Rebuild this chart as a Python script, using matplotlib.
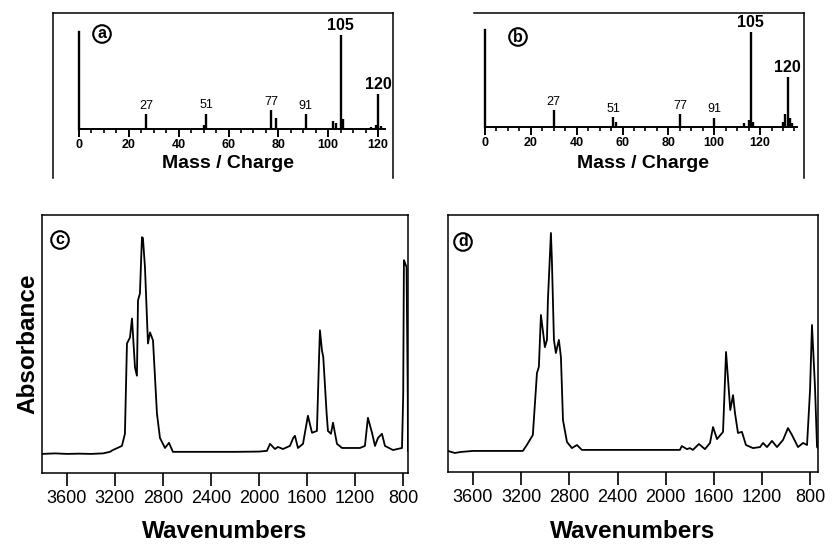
import matplotlib.pyplot as plt
from matplotlib.ticker import MultipleLocator

plt.rcParams['font.family'] = ['Liberation Sans', 'DejaVu Sans']

W, H = 832, 546

# ---- mass spectra (relative intensity, base peak = 100) ----
a_mz = [27, 50, 51, 77, 79, 91, 102, 103, 105, 106, 117, 119, 120, 121]
a_intensity = [15, 4, 16, 20, 11, 15, 7.5, 6, 100, 10, 2, 4, 37, 3]
a_label_mz = [27, 51, 77, 91, 105, 120]
a_label_text = ['27', '51', '77', '91', '105', '120']

b_mz = [30, 56, 57, 85, 100, 113, 115, 116, 117, 130, 131, 132, 133, 134]
b_intensity = [18, 10.5, 5, 14, 10, 4, 7, 100, 5, 5, 14, 53, 10, 4]
b_label_mz = [30, 56, 85, 100, 116, 132]
b_label_text = ['27', '51', '77', '91', '105', '120']

ms_ticks = [0, 20, 40, 60, 80, 100, 120]
big_labels = ['105', '120']

# ---- IR spectra (absorbance, arbitrary units) ----
c_wavenumber = [3808, 3700, 3600, 3500, 3400, 3300, 3242, 3217, 3142, 3117,
                3100, 3075, 3058, 3033, 3017, 3008, 2992, 2975, 2967, 2950,
                2925, 2908, 2883, 2850, 2825, 2783, 2750, 2717, 2600, 2400,
                2200, 2000, 1933, 1908, 1867, 1842, 1800, 1742, 1714, 1700,
                1675, 1633, 1592, 1558, 1517, 1500, 1492, 1475, 1464, 1436,
                1425, 1400, 1383, 1350, 1308, 1158, 1117, 1092, 1058, 1033,
                1008, 975, 950, 883, 808, 798, 792, 770, 760, 758]
c_absorbance = [7.4, 7.6, 7.4, 7.5, 7.4, 7.6, 8.2, 8.9, 10.5, 15.2,
                50.2, 52.5, 59.9, 40.9, 37.7, 66.9, 69.6, 91.4, 91.1, 79.8,
                50.2, 54.5, 51.4, 23.0, 13.6, 9.7, 11.7, 8.2, 8.2, 8.2,
                8.2, 8.3, 8.6, 11.3, 9.3, 10.1, 9.3, 10.5, 13.6, 14.4,
                9.7, 11.3, 22.2, 15.6, 16.3, 43.6, 55.3, 47.5, 44.9, 23.0,
                16.3, 15.2, 19.5, 11.3, 9.7, 9.7, 10.5, 21.4, 15.6, 10.5,
                13.6, 15.2, 10.5, 8.9, 9.7, 30.0, 82.5, 79.8, 30.0, 8.6]

d_wavenumber = [3808, 3750, 3700, 3600, 3400, 3186, 3153, 3103, 3069, 3053,
                3036, 3003, 2986, 2978, 2953, 2945, 2928, 2912, 2887, 2870,
                2853, 2820, 2779, 2737, 2696, 2400, 2000, 1883, 1867, 1825,
                1800, 1775, 1725, 1675, 1633, 1608, 1575, 1525, 1500, 1483,
                1465, 1442, 1426, 1401, 1368, 1335, 1276, 1218, 1193, 1160,
                1119, 1077, 1027, 986, 953, 903, 861, 828, 803, 787,
                762, 745, 737]
d_absorbance = [8.2, 7.4, 7.8, 8.2, 8.2, 8.2, 10.5, 14.4, 38.5, 40.9,
                61.1, 48.6, 51.4, 66.9, 93.0, 82.5, 51.4, 46.3, 51.4, 44.7,
                20.2, 11.7, 9.3, 10.5, 8.6, 8.6, 8.6, 8.6, 10.1, 8.9,
                9.3, 8.6, 10.9, 8.9, 11.3, 17.5, 12.8, 15.6, 46.7, 35.8,
                24.1, 29.9, 23.0, 15.2, 15.6, 10.5, 9.3, 9.7, 11.3, 9.7,
                12.1, 9.7, 12.5, 17.1, 14.4, 9.7, 11.3, 10.5, 31.9, 57.2,
                33.1, 9.7, 9.3]

ir_ticks = [3600, 3200, 2800, 2400, 2000, 1600, 1200, 800]


def px_axes(fig, left, top, right, bottom):
    return fig.add_axes([left / W, 1 - bottom / H, (right - left) / W, (bottom - top) / H])


def circled(fig, x, y, letter):
    fig.text(x / W, 1 - y / H, letter, ha='center', va='center', fontsize=11.5,
             fontweight='bold',
             bbox=dict(boxstyle='circle,pad=0.08', fc='white', ec='black', lw=1.5))


def draw_frame(fig, left, top, right, bottom, show_left=True):
    fa = px_axes(fig, left, top, right, bottom)
    fa.set_facecolor('none')
    fa.set_xticks([])
    fa.set_yticks([])
    fa.spines['bottom'].set_visible(False)
    fa.spines['left'].set_visible(show_left)
    for s in fa.spines.values():
        s.set_linewidth(1.1)
    return fa


def draw_ms(ax, mz, inten, label_mz, label_text, xmax, ytop, zero_top):
    ax.set_facecolor('none')
    ax.vlines(mz, 0, inten, colors='black', lw=1.7)
    ax.set_xlim(0, xmax)
    ax.set_ylim(0, ytop)
    ax.spines['top'].set_visible(False)
    ax.spines['right'].set_visible(False)
    ax.spines['left'].set_bounds(0, zero_top)
    ax.spines['left'].set_linewidth(1.7)
    ax.spines['bottom'].set_linewidth(1.4)
    ax.set_yticks([])
    ax.set_xticks(ms_ticks)
    ax.xaxis.set_minor_locator(MultipleLocator(5))
    ax.tick_params(axis='x', which='major', direction='out', length=6, width=1.4,
                   labelsize=9, pad=1.5)
    ax.tick_params(axis='x', which='minor', direction='out', length=3, width=1.2)
    for lbl in ax.get_xticklabels():
        lbl.set_fontweight('bold')
    heights = dict(zip(mz, inten))
    for x, t in zip(label_mz, label_text):
        big = t in big_labels
        ax.annotate(t, (x, heights[x]), xytext=(0, 1.5), textcoords='offset points',
                    ha='center', va='bottom', fontsize=11.5 if big else 9,
                    fontweight='bold' if big else 'normal')


def draw_ir(ax, wn, absb, xlim):
    ax.plot(wn, absb, color='black', lw=1.3)
    ax.set_xlim(*xlim)
    ax.set_ylim(0, 100)
    ax.set_yticks([])
    ax.set_xticks(ir_ticks)
    ax.tick_params(axis='x', direction='out', length=9.5, width=1.2, labelsize=13, pad=3)
    for s in ax.spines.values():
        s.set_linewidth(1.1)


fig = plt.figure(figsize=(W / 100, H / 100), dpi=100)

# panel a
draw_frame(fig, 53, 13, 393, 178)
ax_a = px_axes(fig, 79, 28.5, 385, 128.5)
draw_ms(ax_a, a_mz, a_intensity, a_label_mz, a_label_text, 122.8, 107, 103.2)
circled(fig, 102, 34, 'a')
fig.text(228 / W, 1 - 163 / H, 'Mass / Charge', ha='center', va='center',
         fontsize=14, fontweight='bold')

# panel b
draw_frame(fig, 474, 13, 804, 178, show_left=False)
ax_b = px_axes(fig, 485, 27, 797, 127)
draw_ms(ax_b, b_mz, b_intensity, b_label_mz, b_label_text, 136.1, 105.3, 101.8)
circled(fig, 518, 37, 'b')
fig.text(643 / W, 1 - 163 / H, 'Mass / Charge', ha='center', va='center',
         fontsize=14, fontweight='bold')

# panel c
ax_c = px_axes(fig, 42, 215, 408, 473)
draw_ir(ax_c, c_wavenumber, c_absorbance, (3808, 758))
circled(fig, 60, 240, 'c')
fig.text(225 / W, 1 - 531 / H, 'Wavenumbers', ha='center', va='center',
         fontsize=17.5, fontweight='bold')

# panel d
ax_d = px_axes(fig, 448, 215, 818, 472)
draw_ir(ax_d, d_wavenumber, d_absorbance, (3807, 737))
circled(fig, 463, 242, 'd')
fig.text(633 / W, 1 - 531 / H, 'Wavenumbers', ha='center', va='center',
         fontsize=17.5, fontweight='bold')

fig.text(28 / W, 1 - 344 / H, 'Absorbance', ha='center', va='center', rotation=90,
         fontsize=17.5, fontweight='bold')

fig.savefig('out.png', dpi=100)
plt.close(fig)
